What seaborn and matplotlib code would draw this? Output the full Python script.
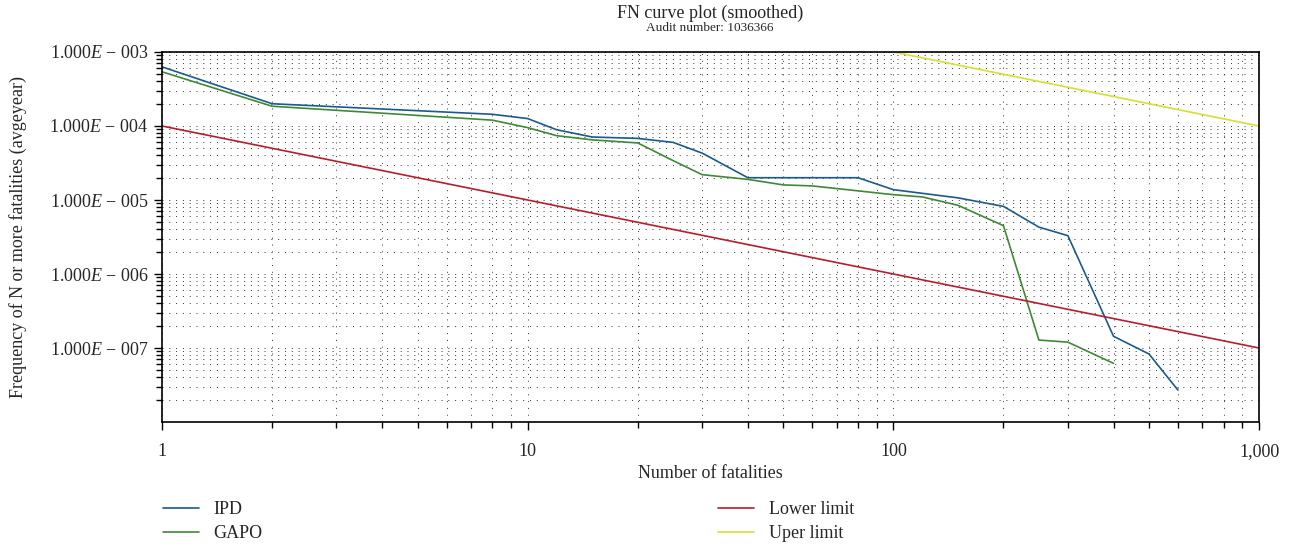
import matplotlib
matplotlib.use("Agg")
import matplotlib.pyplot as plt
import matplotlib.ticker as mticker
import numpy as np
import seaborn as sns

# IPD curve
ipd_n = [1, 2, 8, 10, 12, 15, 20, 25, 30, 40, 80, 100, 150, 200, 250, 300, 400, 500, 600]
ipd_f = [6.3e-4, 2.0e-4, 1.44e-4, 1.26e-4, 8.9e-5, 7.1e-5, 6.8e-5, 6.0e-5, 4.3e-5, 2.0e-5,
         2.0e-5, 1.38e-5, 1.07e-5, 8.2e-6, 4.3e-6, 3.3e-6, 1.44e-7, 8.3e-8, 2.7e-8]

# GAPO curve
gapo_n = [1, 2, 8, 10, 12, 15, 20, 25, 30, 40, 50, 60, 80, 100, 120, 150, 200, 250, 300, 400]
gapo_f = [5.4e-4, 1.85e-4, 1.2e-4, 9.5e-5, 7.4e-5, 6.5e-5, 5.9e-5, 3.4e-5, 2.2e-5, 1.9e-5,
          1.6e-5, 1.55e-5, 1.33e-5, 1.18e-5, 1.1e-5, 8.5e-6, 4.5e-6, 1.28e-7, 1.2e-7, 6.2e-8]

# limit lines
lower_n = [1, 1000]
lower_f = [1e-4, 1e-7]
upper_n = [100, 1000]
upper_f = [1e-3, 1e-4]

c_ipd = "#1b5a8c"
c_gapo = "#3e8a34"
c_low = "#b41e2e"
c_up = "#d6e033"

sns.set_style("ticks")
plt.rcParams['font.family'] = ['Liberation Serif', 'DejaVu Serif']
plt.rcParams['mathtext.fontset'] = 'custom'
plt.rcParams['mathtext.rm'] = 'Liberation Serif'
plt.rcParams['mathtext.it'] = 'Liberation Serif:italic'

fig = plt.figure(figsize=(12.96, 5.52), dpi=100)
ax = fig.add_axes([0.125, 0.2355, 0.8465, 0.6703])

sns.lineplot(x=ipd_n, y=ipd_f, ax=ax, color=c_ipd, lw=1.2, label="IPD")
sns.lineplot(x=gapo_n, y=gapo_f, ax=ax, color=c_gapo, lw=1.2, label="GAPO")
sns.lineplot(x=lower_n, y=lower_f, ax=ax, color=c_low, lw=1.2, label="Lower limit")
sns.lineplot(x=upper_n, y=upper_f, ax=ax, color=c_up, lw=1.2, label="Uper limit")

ax.set_xscale("log")
ax.set_yscale("log")
ax.set_xlim(1, 1000)
ax.set_ylim(1e-8, 1e-3)

ax.xaxis.set_major_locator(mticker.FixedLocator([1, 10, 100, 1000]))
ax.xaxis.set_major_formatter(mticker.FixedFormatter(["1", "10", "100", "1,000"]))
ax.xaxis.set_minor_locator(mticker.LogLocator(base=10, subs=np.arange(2, 10)))
ax.xaxis.set_minor_formatter(mticker.NullFormatter())

ydec = [1e-7, 1e-6, 1e-5, 1e-4, 1e-3]
ax.yaxis.set_major_locator(mticker.FixedLocator(ydec))
ax.yaxis.set_major_formatter(mticker.FixedFormatter(
    ["1.000$E$ \u2212 %03d" % k for k in [7, 6, 5, 4, 3]]))
ax.yaxis.set_minor_locator(mticker.LogLocator(base=10, subs=np.arange(2, 10)))
ax.yaxis.set_minor_formatter(mticker.NullFormatter())

ax.grid(which="both", color="#333333", linestyle=(0, (1, 6)), linewidth=0.7)
ax.tick_params(which="major", length=6, width=1, labelsize=13, color="black")
ax.tick_params(axis="x", which="major", pad=9)
ax.tick_params(which="minor", length=4, width=1, color="black")
for s in ax.spines.values():
    s.set_visible(True)
    s.set_color("black")
    s.set_linewidth(1.2)

ax.set_xlabel("Number of fatalities", fontsize=13, labelpad=4)
ax.set_ylabel("Frequency of N or more fatalities (avgeyear)", fontsize=13, labelpad=16)
fig.text(0.548, 0.976, "FN curve plot (smoothed)", ha="center", va="center", fontsize=13)
fig.text(0.548, 0.950, "Audit number: 1036366", ha="center", va="center", fontsize=9.5)

handles, labels = ax.get_legend_handles_labels()
ax.get_legend().remove()
leg_kw = dict(frameon=False, fontsize=13, handlelength=2.0, handletextpad=0.8,
              labelspacing=0.4, borderpad=0, borderaxespad=0, loc="upper left")
leg1 = fig.legend(handles[:2], labels[:2], bbox_to_anchor=(0.1258, 0.092), **leg_kw)
leg2 = fig.legend(handles[2:], labels[2:], bbox_to_anchor=(0.554, 0.092), **leg_kw)

fig.savefig("out.png", dpi=100)
